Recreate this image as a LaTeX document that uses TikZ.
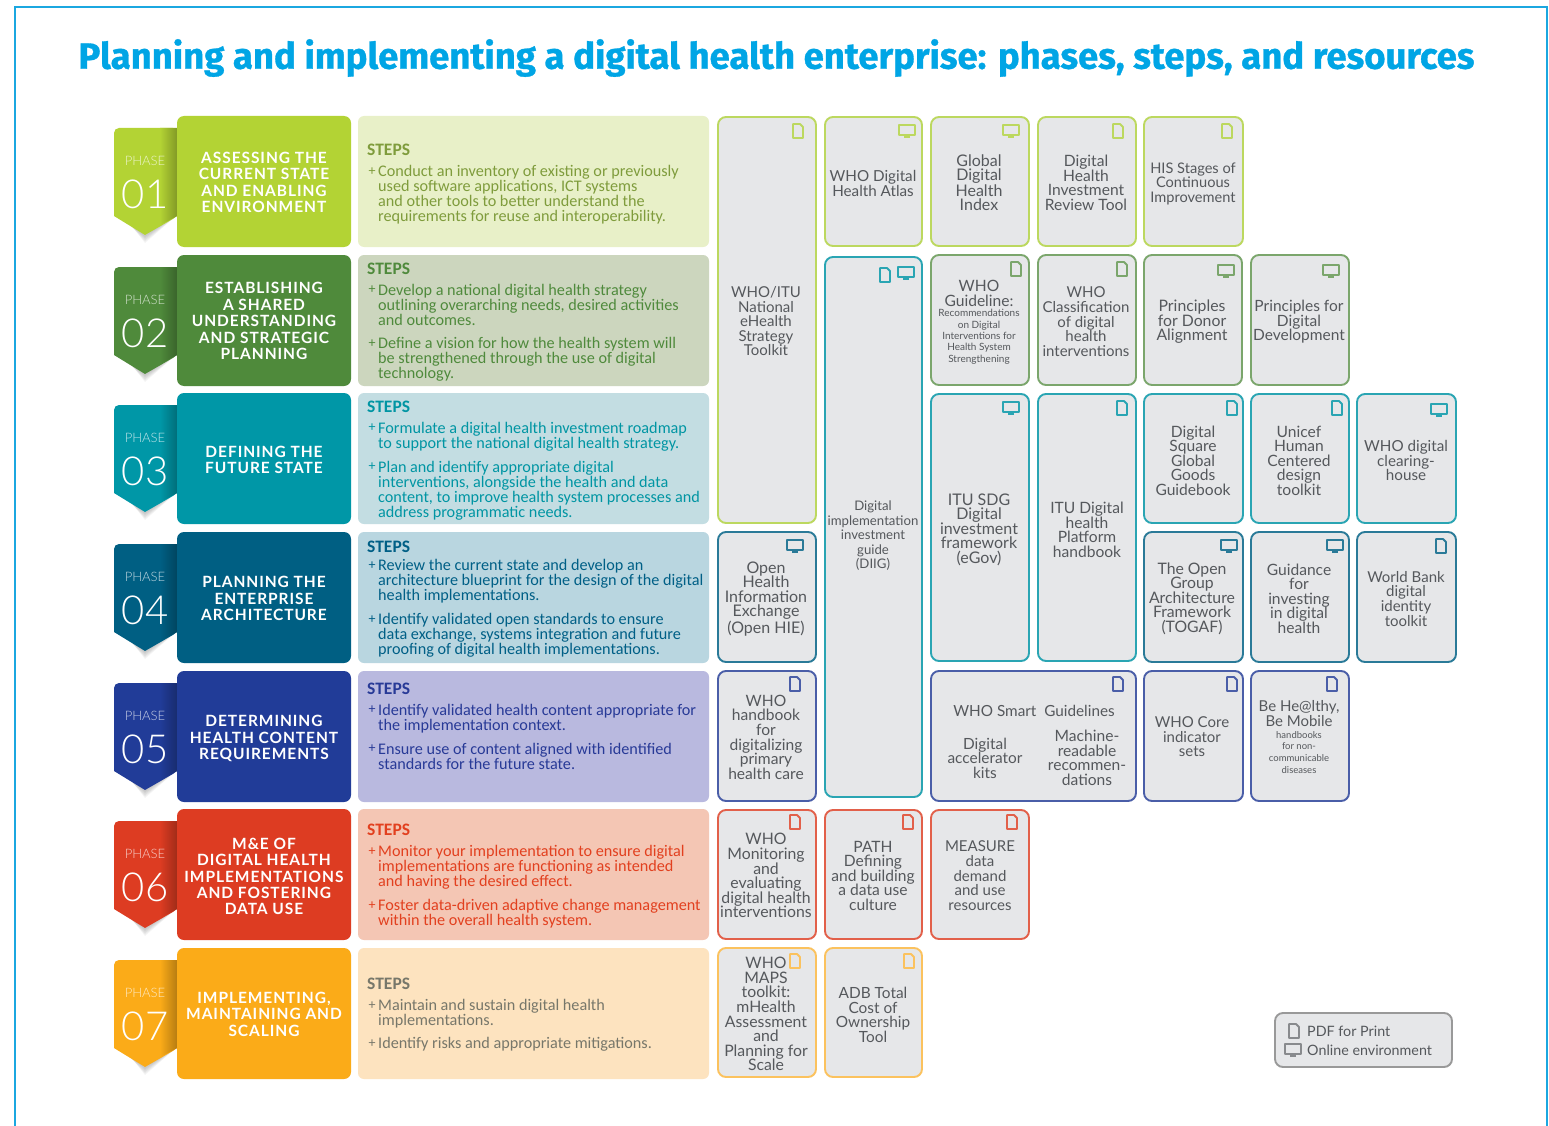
\documentclass[tikz,border=0pt]{standalone}
\usepackage{fontspec}
\setmainfont{Lato}
\newfontfamily\ttlfont[BoldFeatures={FakeBold=0.9}]{Fira Sans}
\newfontfamily\capsfont[LetterSpace=6]{Lato}
\newfontfamily\stepfont{Carlito}
\newfontfamily\lightfont{Lato Light}
\definecolor{frame}{HTML}{1BA7E0}
\definecolor{ttl}{HTML}{00A5E5}
\definecolor{tileg}{HTML}{E6E7E9}
\definecolor{lab}{HTML}{55585C}
\definecolor{gA}{HTML}{B3D334}\definecolor{bA}{HTML}{BCD85F}\definecolor{sA}{HTML}{E8F0C8}\definecolor{tA}{HTML}{7F9C3C}
\definecolor{gB}{HTML}{4F8A3B}\definecolor{bB}{HTML}{7BA66C}\definecolor{sB}{HTML}{CCD6BE}\definecolor{tB}{HTML}{4F8A3C}
\definecolor{gC}{HTML}{0097A7}\definecolor{bC}{HTML}{2AA5B3}\definecolor{sC}{HTML}{C3DDE2}\definecolor{tC}{HTML}{0095A3}
\definecolor{gD}{HTML}{005F83}\definecolor{bD}{HTML}{2A7A98}\definecolor{sD}{HTML}{B9D6E0}\definecolor{tD}{HTML}{005F86}
\definecolor{gE}{HTML}{213C98}\definecolor{bE}{HTML}{4A5EA8}\definecolor{sE}{HTML}{B9B9DF}\definecolor{tE}{HTML}{283A97}
\definecolor{gF}{HTML}{DD3C22}\definecolor{bF}{HTML}{E2604A}\definecolor{sF}{HTML}{F4C6B4}\definecolor{tF}{HTML}{E2401F}
\definecolor{gG}{HTML}{FBAB18}\definecolor{bG}{HTML}{FBC25E}\definecolor{sG}{HTML}{FDE3BF}\definecolor{tG}{HTML}{77776A}
\tikzset{
  tile/.style={rounded corners=8pt,line width=1.9pt,fill=tileg,inner sep=0pt,outer sep=0pt},
  titlebox/.style={rounded corners=7pt,inner sep=0pt,outer sep=0pt,draw=none},
  stepbox/.style={rounded corners=6pt,inner sep=0pt,outer sep=0pt,draw=none},
  lbl/.style={text=lab,align=center,inner sep=0pt},
  steptxt/.style={align=left,inner sep=0pt,anchor=west},
  icon/.style={line width=1.8pt,line join=round}
}
\newcommand{\boxnode}[7]{% style,name,x1,y1,x2,y2,extra
  \pgfmathsetmacro{\bw}{#5-#3}\pgfmathsetmacro{\bh}{#6-#4}
  \pgfmathsetmacro{\bx}{(#3+#5)/2}\pgfmathsetmacro{\by}{(#4+#6)/2}
  \node[#1,#7,minimum width=\bw pt,minimum height=\bh pt] (#2) at (\bx,\by) {};}
\newcommand{\tile}[6]{\boxnode{tile}{#1}{#2}{#3}{#4}{#5}{draw=#6}}
\newcommand{\lb}[6]{\node[lbl,font=\fontsize{#4}{#5}\selectfont] (#1) at (#2,#3+0.7) {#6};}
\newcommand{\pdficon}[3]{\draw[icon,draw=#3] (#1-5,#2-7) -- (#1+2,#2-7) -- (#1+5,#2-4) -- (#1+5,#2+7) -- (#1-5,#2+7) -- cycle;}
\newcommand{\monicon}[3]{\draw[icon,draw=#3] (#1-8,#2-6) rectangle (#1+8,#2+4);\fill[#3] (#1-3,#2+5) rectangle (#1+3,#2+7);}
\newcommand{\phaserow}[7]{% n, top, letter, number, titlecenter, title, unused
  \pgfmathsetmacro{\ta}{#2+12}\pgfmathsetmacro{\tb}{#2+100}\pgfmathsetmacro{\tc}{#2+119}
  \pgfmathsetmacro{\tp}{#2+45}\pgfmathsetmacro{\tn}{#2+78}\pgfmathsetmacro{\tq}{#2+109}
  \foreach \s in {2,3.5,5,6.5,8}{
    \fill[black,opacity=.045] (116+\s,\tb) -- (145,\tc+\s) -- (176,\tb) -- cycle;}
  \fill[g#3,rounded corners=5pt] (114,\tb) -- (114,\ta) -- (178,\ta) -- (178,\tb) [sharp corners] -- (145,\tc) -- cycle;
  \shade[left color=g#3,right color=g#3!72!black] (160,\ta) -- (177.5,\ta) -- (177.5,\tb) -- (160,\tq) -- cycle;
  \node[inner sep=0pt,font=\lightfont\fontsize{13}{13}\selectfont,text=white,opacity=.75] (phase-#1) at (145,\tp) {PHASE};
  \node[inner sep=0pt,font=\lightfont\fontsize{40}{40}\selectfont,text=white] (num-#1) at (145,\tn) {#4};
  \pgfmathsetmacro{\bot}{#2+131}
  \boxnode{titlebox}{head-#1}{177}{#2}{351}{\bot}{fill=g#3}
  \boxnode{stepbox}{steps-#1}{358}{#2}{709}{\bot}{fill=s#3}
  \node[inner sep=0pt,align=center,text=white,font=\capsfont\bfseries\fontsize{15.5}{16.4}\selectfont] (title-#1) at (264,#5) {#6};
}
\newcommand{\hd}[3]{\node[inner sep=0pt,anchor=west,text=#3,font=\stepfont\bfseries\fontsize{17.5}{17.5}\selectfont] (#1) at (367,#2) {STEPS};}
\newcommand{\bul}[4]{% name, first y, color, center y / lines
  \node[inner sep=0pt,text=#3,font=\stepfont\fontsize{14}{14}\selectfont] (#1p) at (372,#2+1) {+};
}
\newcommand{\stx}[4]{\node[steptxt,text=#3,font=\stepfont\fontsize{16.2}{15}\selectfont] (#1) at (378,#2+1.3) {#4};}
\begin{document}
\begin{tikzpicture}[x=1pt,y=-1pt]
\useasboundingbox (0,0) rectangle (1549,1126);
\fill[white] (0,0) rectangle (1549,1126);
\draw[frame,line width=2pt] (15,1126) -- (15,7) -- (1547,7) -- (1547,1126);
\node[inner sep=0pt,text=ttl,font=\ttlfont\bfseries\fontsize{36.5}{36.5}\selectfont] (maintitle) at (776.5,58) {Planning and implementing a digital health enterprise: phases, steps, and resources};

\phaserow{1}{116}{A}{01}{182.5}{ASSESSING THE\\CURRENT STATE\\AND ENABLING\\ENVIRONMENT}{}
\phaserow{2}{255}{B}{02}{321}{ESTABLISHING\\A SHARED\\UNDERSTANDING\\AND STRATEGIC\\PLANNING}{}
\phaserow{3}{393}{C}{03}{460}{DEFINING THE\\FUTURE STATE}{}
\phaserow{4}{532}{D}{04}{598.5}{PLANNING THE\\ENTERPRISE\\ARCHITECTURE}{}
\phaserow{5}{671}{E}{05}{738.5}{DETERMINING\\HEALTH CONTENT\\REQUIREMENTS}{}
\phaserow{6}{809}{F}{06}{876.5}{M\&E OF\\DIGITAL HEALTH\\IMPLEMENTATIONS\\AND FOSTERING\\DATA USE}{}
\phaserow{7}{948}{G}{07}{1014}{IMPLEMENTING,\\MAINTAINING AND\\SCALING}{}

% steps
\hd{h1}{150}{tA}
\bul{a1}{171}{tA}{}\stx{a1t}{193}{tA}{Conduct an inventory of existing or previously\\used software applications, ICT systems\\and other tools to better understand the\\requirements for reuse and interoperability.}
\hd{h2}{269}{tB}
\bul{b1}{289}{tB}{}\stx{b1t}{304}{tB}{Develop a national digital health strategy\\outlining overarching needs, desired activities\\and outcomes.}
\bul{b2}{343}{tB}{}\stx{b2t}{358}{tB}{Define a vision for how the health system will\\be strengthened through the use of digital\\technology.}
\hd{h3}{407}{tC}
\bul{c1}{427}{tC}{}\stx{c1t}{435}{tC}{Formulate a digital health investment roadmap\\to support the national digital health strategy.}
\bul{c2}{466}{tC}{}\stx{c2t}{489}{tC}{Plan and identify appropriate digital\\interventions, alongside the health and data\\content, to improve health system processes and\\address programmatic needs.}
\hd{h4}{547}{tD}
\bul{d1}{565}{tD}{}\stx{d1t}{580}{tD}{Review the current state and develop an\\architecture blueprint for the design of the digital\\health implementations.}
\bul{d2}{619}{tD}{}\stx{d2t}{634}{tD}{Identify validated open standards to ensure\\data exchange, systems integration and future\\proofing of digital health implementations.}
\hd{h5}{689}{tE}
\bul{e1}{709}{tE}{}\stx{e1t}{717}{tE}{Identify validated health content appropriate for\\the implementation context.}
\bul{e2}{748}{tE}{}\stx{e2t}{755.5}{tE}{Ensure use of content aligned with identified\\standards for the future state.}
\hd{h6}{830}{tF}
\bul{f1}{851}{tF}{}\stx{f1t}{866}{tF}{Monitor your implementation to ensure digital\\implementations are functioning as intended\\and having the desired effect.}
\bul{f2}{905}{tF}{}\stx{f2t}{912.5}{tF}{Foster data-driven adaptive change management\\within the overall health system.}
\hd{h7}{984}{tG}
\bul{g1}{1005}{tG}{}\stx{g1t}{1012.5}{tG}{Maintain and sustain digital health\\implementations.}
\bul{g2}{1043}{tG}{}\stx{g2t}{1043}{tG}{Identify risks and appropriate mitigations.}

% resource tiles
\tile{r-ehealth}{718}{117}{816}{523}{bA}\pdficon{798}{131}{bA}
\lb{l-ehealth}{766}{320.5}{15}{14.6}{WHO/ITU\\National\\eHealth\\Strategy\\Toolkit}
\tile{r-atlas}{825}{117}{922}{246}{bA}\monicon{907}{131}{bA}
\lb{l-atlas}{873}{182.5}{15.2}{14.6}{WHO Digital\\Health Atlas}
\tile{r-index}{931}{117}{1029}{246}{bA}\monicon{1011}{131}{bA}
\lb{l-index}{979}{182}{16}{14.6}{Global\\Digital\\Health\\Index}
\tile{r-review}{1038}{117}{1136}{246}{bA}\pdficon{1118}{131}{bA}
\lb{l-review}{1086}{182}{15.6}{14.6}{Digital\\Health\\Investment\\Review Tool}
\tile{r-his}{1144}{117}{1243}{246}{bA}\pdficon{1227}{131}{bA}
\lb{l-his}{1193}{183}{14.6}{14.6}{HIS Stages of\\Continuous\\Improvement}

\tile{r-diig}{825}{257}{922}{797}{bC}\pdficon{885}{275}{bC}\monicon{906}{273}{bC}
\lb{l-diig}{873}{535}{13.2}{14.5}{Digital\\implementation\\investment\\guide\\(DIIG)}
\tile{r-guide}{931}{255}{1029}{385}{bB}\pdficon{1016}{269}{bB}
\lb{l-guide}{979}{292.5}{15.6}{15}{WHO\\Guideline:}
\lb{l-guide2}{979}{336}{10}{11.4}{Recommendations\\on Digital\\Interventions for\\Health System\\Strengthening}
\tile{r-class}{1038}{255}{1136}{385}{bB}\pdficon{1122}{269}{bB}
\lb{l-class}{1086}{321}{15}{14.6}{WHO\\Classification\\of digital\\health\\interventions}
\tile{r-donor}{1144}{255}{1242}{385}{bB}\monicon{1226}{271}{bB}
\lb{l-donor}{1192}{321}{15.8}{14.6}{Principles\\for Donor\\Alignment}
\tile{r-dev}{1251}{255}{1349}{385}{bB}\monicon{1331}{271}{bB}
\lb{l-dev}{1299}{321}{15.5}{14.6}{Principles for\\Digital\\Development}

\tile{r-sdg}{931}{394}{1029}{661}{bC}\monicon{1011}{408}{bC}
\lb{l-sdg}{979}{529}{16}{14.6}{ITU SDG\\Digital\\investment\\framework\\(eGov)}
\tile{r-plat}{1038}{394}{1136}{661}{bC}\pdficon{1122}{408}{bC}
\lb{l-plat}{1087}{529}{15.6}{14.6}{ITU Digital\\health\\Platform\\handbook}
\tile{r-square}{1144}{394}{1243}{523}{bC}\pdficon{1232}{408}{bC}
\lb{l-square}{1193}{460}{15.6}{14.6}{Digital\\Square\\Global\\Goods\\Guidebook}
\tile{r-unicef}{1251}{394}{1349}{523}{bC}\pdficon{1337}{408}{bC}
\lb{l-unicef}{1299}{460}{15.6}{14.6}{Unicef\\Human\\Centered\\design\\toolkit}
\tile{r-clear}{1357}{394}{1456}{523}{bC}\monicon{1439}{410}{bC}
\lb{l-clear}{1406}{460}{15.2}{14.6}{WHO digital\\clearing-\\house}

\tile{r-hie}{718}{532}{816}{662}{bD}\monicon{795}{546}{bD}
\lb{l-hie}{766}{598}{16}{14.6}{Open\\Health\\Information\\Exchange\\(Open HIE)}
\tile{r-togaf}{1144}{532}{1243}{662}{bD}\monicon{1229}{546}{bD}
\lb{l-togaf}{1192}{598}{15.8}{14.6}{The Open\\Group\\Architecture\\Framework\\(TOGAF)}
\tile{r-invest}{1251}{532}{1349}{662}{bD}\monicon{1335}{546}{bD}
\lb{l-invest}{1299}{598}{15.6}{14.6}{Guidance\\for\\investing\\in digital\\health}
\tile{r-wb}{1357}{532}{1456}{662}{bD}\pdficon{1441}{546}{bD}
\lb{l-wb}{1406}{598}{15}{14.6}{World Bank\\digital\\identity\\toolkit}

\tile{r-hand}{718}{671}{816}{801}{bE}\pdficon{795}{684}{bE}
\lb{l-hand}{766}{736.5}{15.6}{14.6}{WHO\\handbook\\for\\digitalizing\\primary\\health care}
\tile{r-smart}{931}{671}{1136}{801}{bE}\pdficon{1118}{684}{bE}
\lb{l-smart}{1034}{710}{15.3}{14.6}{WHO Smart\ \ Guidelines}
\lb{l-smart2}{985}{757.5}{15.4}{14.6}{Digital\\accelerator\\kits}
\lb{l-smart3}{1087}{757}{15.6}{14.6}{Machine-\\readable\\recommen-\\dations}
\tile{r-core}{1144}{671}{1243}{801}{bE}\pdficon{1232}{684}{bE}
\lb{l-core}{1192}{736}{15}{14.6}{WHO Core\\indicator\\sets}
\tile{r-mobile}{1251}{671}{1349}{801}{bE}\pdficon{1332}{684}{bE}
\lb{l-mobile}{1299}{713}{15}{14.6}{Be He@lthy,\\Be Mobile}
\lb{l-mobile2}{1299}{751.5}{9.5}{11.7}{handbooks\\for non-\\communicable\\diseases}

\tile{r-monit}{718}{810}{816}{939}{bF}\pdficon{795}{822}{bF}
\lb{l-monit}{766}{875}{15.8}{14.6}{WHO\\Monitoring\\and\\evaluating\\digital health\\interventions}
\tile{r-path}{825}{810}{922}{939}{bF}\pdficon{908}{822}{bF}
\lb{l-path}{873}{875}{15.6}{14.6}{PATH\\Defining\\and building\\a data use\\culture}
\tile{r-meas}{931}{810}{1029}{939}{bF}\pdficon{1012}{822}{bF}
\lb{l-meas}{980}{875}{15}{14.6}{MEASURE\\data\\demand\\and use\\resources}

\tile{r-maps}{718}{948}{816}{1077}{bG}\pdficon{795}{961}{bG}
\lb{l-maps}{766}{1013.5}{15.8}{14.6}{WHO\\MAPS\\toolkit:\\mHealth\\Assessment\\and\\Planning for\\Scale}
\tile{r-adb}{825}{948}{922}{1077}{bG}\pdficon{909}{961}{bG}
\lb{l-adb}{873}{1014}{15.4}{14.6}{ADB Total\\Cost of\\Ownership\\Tool}

% legend
\tile{r-legend}{1275}{1013}{1452}{1067}{gray!80}
\pdficon{1294}{1031}{lab!70}
\monicon{1293}{1050}{lab!70}
\node[inner sep=0pt,anchor=west,text=lab,font=\fontsize{14.3}{14.3}\selectfont] (l-pdf) at (1307,1031) {PDF for Print};
\node[inner sep=0pt,anchor=west,text=lab,font=\fontsize{14.3}{14.3}\selectfont] (l-online) at (1307,1050) {Online environment};
\end{tikzpicture}
\end{document}
